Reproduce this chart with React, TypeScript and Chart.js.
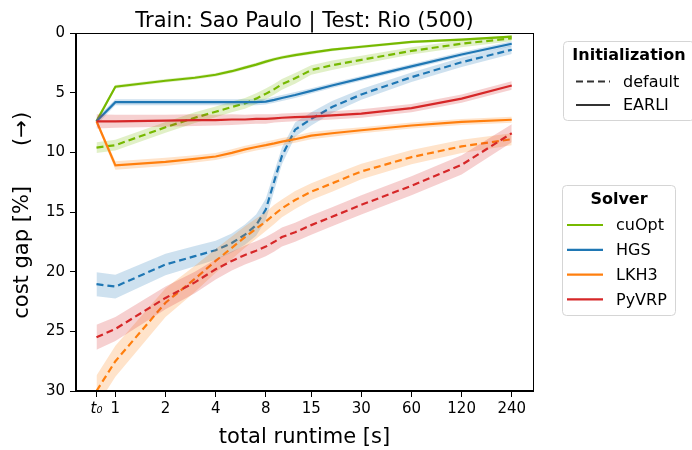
import React, { useEffect, useRef } from "react";
import { Chart, registerables } from "chart.js";

Chart.register(...registerables);

const TITLE = "Train: Sao Paulo | Test: Rio (500)";
const X_TITLE = "total runtime [s]";
const Y_TITLE = "cost gap [%]      (→) ";

// sample times in seconds (t0 ≈ 0.77 s)
const TIMES = [0.77, 1, 2, 3, 4, 5, 6, 7, 8, 9, 10, 12, 15, 20, 30, 60, 120, 240];
const X_TICKS = [0.77, 1, 2, 4, 8, 15, 30, 60, 120, 240];
const X_TICK_LABELS = ["t₀", "1", "2", "4", "8", "15", "30", "60", "120", "240"];

const SOLVERS = ["cuOpt", "HGS", "LKH3", "PyVRP"];
const SOLVER_COLORS = ["#76b900", "#1f77b4", "#ff7f0e", "#d62728"];
const INITS = ["default", "EARLI"];
const LEGEND_INIT_TITLE = "Initialization";
const LEGEND_SOLVER_TITLE = "Solver";

// mean cost gap [%] and half-width of the band
const cuOptDefault = [9.6, 9.4, 7.9, 7.1, 6.6, 6.2, 5.9, 5.5, 5.1, 4.7, 4.3, 3.8, 3.1, 2.7, 2.25, 1.5, 0.9, 0.45];
const cuOptDefaultCi = [0.45, 0.45, 0.45, 0.45, 0.45, 0.45, 0.45, 0.45, 0.45, 0.45, 0.45, 0.45, 0.4, 0.4, 0.35, 0.3, 0.3, 0.25];
const cuOptEarli = [7.4, 4.5, 4.0, 3.75, 3.5, 3.2, 2.9, 2.65, 2.4, 2.2, 2.05, 1.85, 1.65, 1.4, 1.15, 0.75, 0.55, 0.3];
const cuOptEarliCi = [0.25, 0.15, 0.15, 0.15, 0.15, 0.15, 0.15, 0.15, 0.15, 0.15, 0.15, 0.15, 0.15, 0.12, 0.12, 0.1, 0.1, 0.1];

const hgsDefault = [21.05, 21.25, 19.4, 18.7, 18.2, 17.6, 16.9, 16.1, 14.8, 12.4, 10.3, 8.1, 7.2, 6.2, 5.15, 3.7, 2.45, 1.4];
const hgsDefaultCi = [1.0, 1.0, 0.9, 0.85, 0.8, 0.8, 0.85, 0.9, 0.9, 0.8, 0.7, 0.6, 0.55, 0.5, 0.45, 0.4, 0.4, 0.35];
const hgsEarli = [7.4, 5.8, 5.8, 5.8, 5.8, 5.8, 5.8, 5.8, 5.75, 5.6, 5.45, 5.2, 4.85, 4.4, 3.8, 2.8, 1.8, 0.9];
const hgsEarliCi = [0.3, 0.25, 0.25, 0.25, 0.25, 0.25, 0.25, 0.25, 0.25, 0.25, 0.25, 0.25, 0.22, 0.2, 0.2, 0.2, 0.2, 0.2];

const lkhDefault = [30.0, 27.5, 22.6, 20.6, 19.1, 18.0, 17.1, 16.4, 15.8, 15.2, 14.7, 14.0, 13.3, 12.6, 11.6, 10.4, 9.5, 8.9];
const lkhDefaultCi = [1.3, 1.3, 1.2, 1.1, 1.0, 0.95, 0.9, 0.85, 0.8, 0.8, 0.75, 0.75, 0.7, 0.7, 0.65, 0.6, 0.55, 0.5];
const lkhEarli = [7.4, 11.1, 10.8, 10.55, 10.35, 10.05, 9.75, 9.55, 9.4, 9.25, 9.1, 8.9, 8.6, 8.4, 8.15, 7.75, 7.45, 7.27];
const lkhEarliCi = [0.2, 0.35, 0.35, 0.3, 0.3, 0.3, 0.3, 0.3, 0.3, 0.3, 0.3, 0.3, 0.3, 0.3, 0.25, 0.25, 0.25, 0.25];

const pyvrpDefault = [25.5, 24.8, 22.2, 20.9, 19.8, 19.1, 18.6, 18.25, 17.9, 17.5, 17.1, 16.7, 16.1, 15.4, 14.4, 12.8, 11.05, 8.4];
const pyvrpDefaultCi = [1.05, 1.0, 0.95, 0.9, 0.85, 0.8, 0.8, 0.8, 0.8, 0.8, 0.8, 0.8, 0.8, 0.8, 0.8, 0.8, 0.8, 0.75];
const pyvrpEarli = [7.4, 7.4, 7.35, 7.3, 7.3, 7.25, 7.25, 7.2, 7.2, 7.15, 7.1, 7.05, 7.0, 6.9, 6.75, 6.3, 5.5, 4.4];
const pyvrpEarliCi = [0.6, 0.55, 0.5, 0.5, 0.45, 0.45, 0.4, 0.4, 0.4, 0.35, 0.35, 0.35, 0.35, 0.35, 0.35, 0.35, 0.35, 0.35];

// drawing order: bottom first
const SERIES = [
  { solver: 0, init: 0, mean: cuOptDefault, ci: cuOptDefaultCi },
  { solver: 0, init: 1, mean: cuOptEarli, ci: cuOptEarliCi },
  { solver: 1, init: 0, mean: hgsDefault, ci: hgsDefaultCi },
  { solver: 1, init: 1, mean: hgsEarli, ci: hgsEarliCi },
  { solver: 2, init: 0, mean: lkhDefault, ci: lkhDefaultCi },
  { solver: 2, init: 1, mean: lkhEarli, ci: lkhEarliCi },
  { solver: 3, init: 0, mean: pyvrpDefault, ci: pyvrpDefaultCi },
  { solver: 3, init: 1, mean: pyvrpEarli, ci: pyvrpEarliCi },
];

const FONT = "'DejaVu Sans', sans-serif";
const DASH = [7, 4];

function hexA(hex: string, a: number) {
  const r = parseInt(hex.slice(1, 3), 16);
  const g = parseInt(hex.slice(3, 5), 16);
  const b = parseInt(hex.slice(5, 7), 16);
  return `rgba(${r},${g},${b},${a})`;
}

const framePlugin = {
  id: "frame",
  afterDatasetsDraw(chart: any) {
    const { ctx, chartArea } = chart;
    ctx.save();
    ctx.strokeStyle = "#000";
    ctx.lineWidth = 1;
    ctx.strokeRect(
      Math.round(chartArea.left) - 0.5,
      Math.round(chartArea.top) + 0.5,
      Math.round(chartArea.right - chartArea.left) + 1,
      Math.round(chartArea.bottom - chartArea.top) - 1
    );
    ctx.restore();
  },
};

const titlePlugin = {
  id: "customTitle",
  afterDraw(chart: any) {
    const { ctx, chartArea } = chart;
    ctx.save();
    ctx.font = `21px ${FONT}`;
    ctx.fillStyle = "#000";
    ctx.textAlign = "center";
    ctx.textBaseline = "alphabetic";
    ctx.fillText(TITLE, (chartArea.left + chartArea.right) / 2, 27);
    ctx.restore();
  },
};

function legendBox(ctx: any, x: number, y: number, w: number, h: number) {
  ctx.save();
  ctx.fillStyle = "#fff";
  ctx.strokeStyle = "#d5d5d5";
  ctx.lineWidth = 1;
  ctx.beginPath();
  ctx.roundRect(x, y, w, h, 4);
  ctx.fill();
  ctx.stroke();
  ctx.restore();
}

const legendPlugin = {
  id: "customLegend",
  afterDraw(chart: any) {
    const { ctx } = chart;
    // Initialization legend
    legendBox(ctx, 563.5, 41.5, 131, 79);
    ctx.save();
    ctx.fillStyle = "#000";
    ctx.textBaseline = "middle";
    ctx.textAlign = "center";
    ctx.font = `bold 16px ${FONT}`;
    ctx.fillText(LEGEND_INIT_TITLE, 629, 56);
    ctx.textAlign = "left";
    ctx.font = `16px ${FONT}`;
    const initY = [81.5, 105];
    INITS.forEach((name, i) => {
      ctx.strokeStyle = "#333";
      ctx.lineWidth = 2.2;
      ctx.setLineDash(i === 0 ? DASH : []);
      ctx.beginPath();
      ctx.moveTo(576, initY[i]);
      ctx.lineTo(610, initY[i]);
      ctx.stroke();
      ctx.fillText(name, 623, initY[i] + 1);
    });
    ctx.setLineDash([]);
    ctx.restore();

    // Solver legend
    legendBox(ctx, 562.5, 185.5, 113, 130);
    ctx.save();
    ctx.fillStyle = "#000";
    ctx.textBaseline = "middle";
    ctx.textAlign = "center";
    ctx.font = `bold 16px ${FONT}`;
    ctx.fillText(LEGEND_SOLVER_TITLE, 619, 200);
    ctx.textAlign = "left";
    ctx.font = `16px ${FONT}`;
    SOLVERS.forEach((name, i) => {
      const y = 225 + i * 24.8;
      ctx.strokeStyle = SOLVER_COLORS[i];
      ctx.lineWidth = 2.2;
      ctx.beginPath();
      ctx.moveTo(567, y);
      ctx.lineTo(603, y);
      ctx.stroke();
      ctx.fillText(name, 616, y + 1);
    });
    ctx.restore();
  },
};

export default function App() {
  const canvasRef = useRef<HTMLCanvasElement | null>(null);

  useEffect(() => {
    const canvas = canvasRef.current;
    if (!canvas) return;
    const datasets: any[] = [];
    SERIES.forEach((s) => {
      const color = SOLVER_COLORS[s.solver];
      const lo = TIMES.map((t, i) => ({ x: t, y: s.mean[i] - s.ci[i] }));
      const hi = TIMES.map((t, i) => ({ x: t, y: s.mean[i] + s.ci[i] }));
      const mean = TIMES.map((t, i) => ({ x: t, y: s.mean[i] }));
      datasets.push({
        label: `${SOLVERS[s.solver]} ${INITS[s.init]} lo`,
        data: lo,
        borderWidth: 0,
        borderColor: "rgba(0,0,0,0)",
        pointRadius: 0,
        fill: false,
      });
      datasets.push({
        label: `${SOLVERS[s.solver]} ${INITS[s.init]} hi`,
        data: hi,
        borderWidth: 0,
        borderColor: "rgba(0,0,0,0)",
        backgroundColor: hexA(color, 0.22),
        pointRadius: 0,
        fill: "-1",
      });
      datasets.push({
        label: `${SOLVERS[s.solver]} ${INITS[s.init]}`,
        data: mean,
        borderColor: color,
        borderWidth: 2.2,
        borderDash: s.init === 0 ? DASH : [],
        pointRadius: 0,
        fill: false,
        tension: 0,
      });
    });
    const n = datasets.length;
    datasets.forEach((d, i) => (d.order = n - i));

    const chart = new Chart(canvas, {
      type: "line",
      data: { datasets },
      plugins: [framePlugin, titlePlugin, legendPlugin],
      options: {
        animation: false,
        responsive: false,
        devicePixelRatio: 1,
        layout: { padding: { left: 0, top: 33, right: 159, bottom: 0 } },
        plugins: {
          legend: { display: false },
          title: { display: false },
          tooltip: { enabled: false },
        },
        scales: {
          x: {
            type: "logarithmic",
            min: 0.58,
            max: 322,
            afterBuildTicks: (scale: any) => {
              scale.ticks = X_TICKS.map((v) => ({ value: v }));
            },
            afterFit: (scale: any) => {
              scale.height = 59;
            },
            ticks: {
              autoSkip: false,
              maxRotation: 0,
              minRotation: 0,
              padding: 3,
              color: "#000",
              font: (ctx: any) =>
                ctx.index === 0
                  ? { family: FONT, size: 15, style: "italic" }
                  : { family: FONT, size: 15 },
              callback: (_v: any, i: number) => X_TICK_LABELS[i],
            },
            grid: {
              drawOnChartArea: false,
              drawTicks: true,
              tickLength: 6,
              color: "#000",
            },
            border: { display: true, color: "#000", width: 1 },
            title: {
              display: true,
              text: X_TITLE,
              color: "#000",
              font: { family: FONT, size: 21 },
              padding: { top: 0, bottom: 0 },
            },
          },
          y: {
            type: "linear",
            reverse: true,
            min: 0,
            max: 30,
            afterFit: (scale: any) => {
              scale.width = 76;
            },
            ticks: {
              stepSize: 5,
              padding: 5,
              color: "#000",
              font: { family: FONT, size: 15 },
            },
            grid: {
              drawOnChartArea: false,
              drawTicks: true,
              tickLength: 6,
              color: "#000",
            },
            border: { display: true, color: "#000", width: 1 },
            title: {
              display: true,
              text: Y_TITLE,
              color: "#000",
              font: { family: FONT, size: 21 },
              padding: { top: 10, bottom: 0 },
            },
          },
        },
      },
    });
    return () => chart.destroy();
  }, []);

  return (
    <div style={{ position: "fixed", left: 0, top: 0, width: 692, height: 450, background: "#fff" }}>
      <canvas ref={canvasRef} width={692} height={450} />
    </div>
  );
}
